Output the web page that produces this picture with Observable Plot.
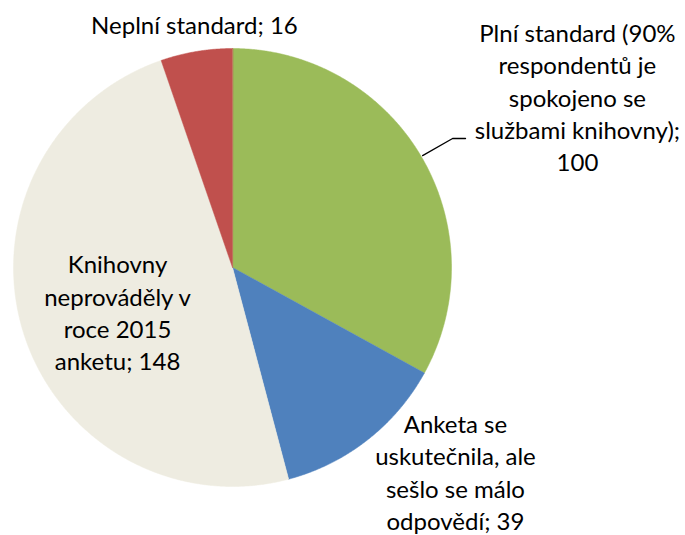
<!DOCTYPE html>
<html><head><meta charset="utf-8">
<script src="https://cdn.jsdelivr.net/npm/d3@7"></script>
<script src="https://cdn.jsdelivr.net/npm/@observablehq/plot@0.6"></script>
<style>body{margin:0;background:#fff}</style>
</head><body><div id="chart"></div>
<script>
// Data
const categories = [
  "Plní standard (90%\nrespondentů je\nspokojeno se\nslužbami knihovny)",
  "Anketa se\nuskutečnila, ale\nsešlo se málo\nodpovědí",
  "Knihovny\nneprováděly v\nroce 2015\nanketu",
  "Neplní standard"
];
const values = [100, 39, 148, 16];
const colors = ["#9BBB59", "#4F81BD", "#EEECE1", "#C0504D"];
const valueSeparators = ";\n|; |; |; ".split("|");

// Layout (data units of the unit-circle plot)
const labelX = [1.575, 1.018, -0.525, -0.174];
const labelY = [0.782, -0.930, -0.201, 1.115];
const leaderX = [0.868, 1.005, 1.064];
const leaderY = [0.511, 0.589, 0.589];

const arcs = d3.pie().sort(null).value(d => d)(values);
const marks = [];
arcs.forEach((a, i) => {
  const pts = [{x: 0, y: 0}];
  const n = Math.max(2, Math.ceil((a.endAngle - a.startAngle) / 0.005));
  for (let k = 0; k <= n; k++) {
    const t = a.startAngle + (a.endAngle - a.startAngle) * k / n;
    pts.push({x: Math.sin(t), y: Math.cos(t)});
  }
  marks.push(Plot.line(pts, {x: "x", y: "y", fill: colors[i], stroke: colors[i], strokeWidth: 0.5, curve: "linear-closed"}));
});
const labels = categories.map((c, i) => ({x: labelX[i], y: labelY[i], text: c + valueSeparators[i] + values[i]}));
marks.push(Plot.line(leaderX.map((x, i) => ({x, y: leaderY[i]})), {x: "x", y: "y", stroke: "#000", strokeWidth: 1.3}));
marks.push(Plot.text(labels, {x: "x", y: "y", text: "text", fill: "#000", fontSize: 24, lineHeight: 1.35, textAnchor: "middle", fontFamily: "Lato"}));

const chart = Plot.plot({
  width: 685, height: 535,
  marginLeft: 13, marginRight: 234, marginTop: 48, marginBottom: 49,
  x: {domain: [-1, 1], axis: null},
  y: {domain: [-1, 1], axis: null},
  style: {background: "#fff", overflow: "hidden"},
  marks
});
document.getElementById("chart").appendChild(chart);
</script></body></html>
